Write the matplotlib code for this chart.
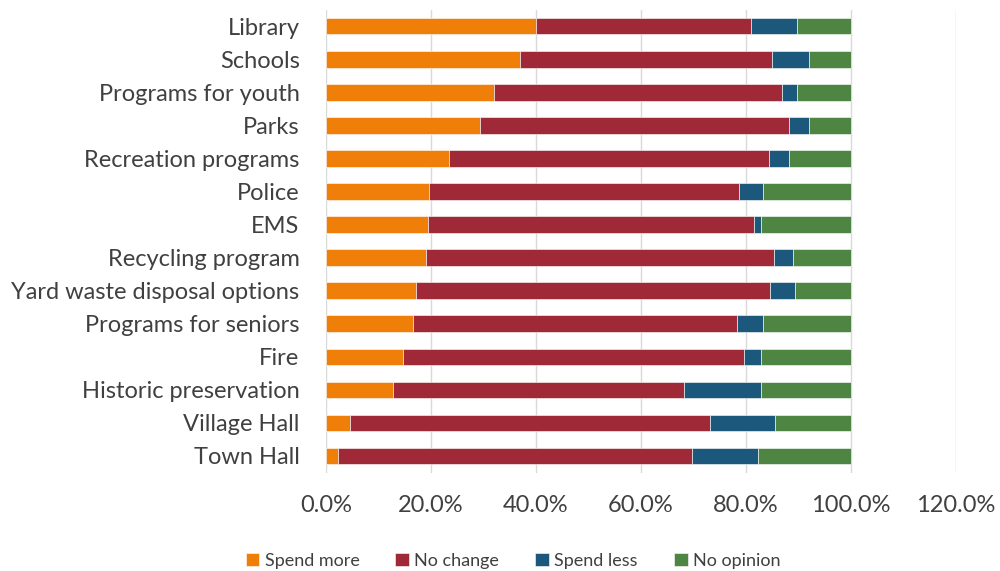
import numpy as np
import matplotlib.pyplot as plt

plt.rcParams['font.family'] = ['Lato', 'DejaVu Sans']

services = ['Library', 'Schools', 'Programs for youth', 'Parks', 'Recreation programs',
            'Police', 'EMS', 'Recycling program', 'Yard waste disposal options',
            'Programs for seniors', 'Fire', 'Historic preservation', 'Village Hall', 'Town Hall']
spend_more = [40.0, 36.9, 32.0, 29.4, 23.4, 19.7, 19.4, 19.1, 17.1, 16.5, 14.7, 12.8, 4.5, 2.3]
no_change = [40.9, 48.0, 54.8, 58.7, 61.0, 59.0, 62.1, 66.2, 67.5, 61.8, 65.0, 55.4, 68.6, 67.4]
spend_less = [8.9, 7.1, 2.9, 3.9, 3.8, 4.5, 1.4, 3.6, 4.7, 4.9, 3.2, 14.6, 12.4, 12.5]
no_opinion = [10.2, 8.0, 10.3, 8.0, 11.8, 16.8, 17.1, 11.1, 10.7, 16.8, 17.1, 17.2, 14.5, 17.8]

series = [('Spend more', spend_more, '#F07F09'),
          ('No change', no_change, '#9F2936'),
          ('Spend less', spend_less, '#1B587C'),
          ('No opinion', no_opinion, '#4E8542')]

fig = plt.figure(figsize=(10, 5.71), dpi=100)
ax = fig.add_axes([0.326, 0.1725, 0.63, 0.8105])

y = np.arange(len(services))
left = np.zeros(len(services))
for name, vals, col in series:
    vals = np.array(vals)
    ax.barh(y, vals, left=left, height=0.5, color=col, label=name,
            edgecolor='white', linewidth=0.4, zorder=3)
    left += vals

ax.set_ylim(len(services) - 0.5, -0.5)
ax.set_xlim(0, 120)
ax.set_xticks(np.arange(0, 121, 20))
ax.set_xticklabels(['%.1f%%' % v for v in np.arange(0, 121, 20)])
ax.set_yticks(y)
ax.set_yticklabels(services)
ax.grid(axis='x', color='#D9D9D9', linewidth=1, zorder=0)
for s in ax.spines.values():
    s.set_visible(False)
ax.tick_params(axis='both', length=0, labelsize=17, colors='#404040')
ax.tick_params(axis='x', pad=16)
ax.tick_params(axis='y', pad=19)

fig.legend(loc='lower center', bbox_to_anchor=(0.513, -0.025), ncol=4, frameon=False,
           fontsize=13, handlelength=0.75, handleheight=0.75, handletextpad=0.3,
           columnspacing=2.0, labelcolor='#404040')

fig.savefig('out.png', dpi=100)
